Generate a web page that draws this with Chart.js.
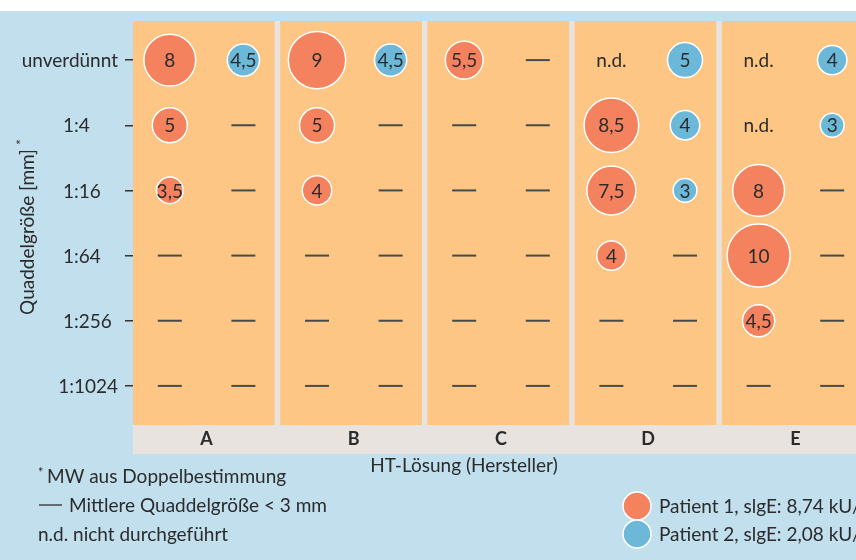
<!DOCTYPE html>
<html>
<head>
<meta charset="utf-8">
<script src="https://cdn.jsdelivr.net/npm/chart.js@4.4.1/dist/chart.umd.min.js"></script>
<style>
html, body { margin: 0; padding: 0; background: #fff; overflow: hidden; }
#wrap { width: 880px; height: 560px; }
</style>
</head>
<body>
<div id="wrap"><canvas id="chart" width="880" height="560"></canvas></div>
<script>
// HT-Lösungen (Hersteller) und Verdünnungsstufen
const groups = ['A', 'B', 'C', 'D', 'E'];
const dilutions = ['unverdünnt', '1:4', '1:16', '1:64', '1:256', '1:1024'];

// Quaddelgröße [mm] je Hersteller (Zeilen = Verdünnung); 0 = < 3 mm (—), null = n.d.
const patient1 = [
    [8, 5, 3.5, 0, 0, 0],
    [9, 5, 4, 0, 0, 0],
    [5.5, 0, 0, 0, 0, 0],
    [null, 8.5, 7.5, 4, 0, 0],
    [null, null, 8, 10, 4.5, 0]
];
const patient2 = [
    [4.5, 0, 0, 0, 0, 0],
    [4.5, 0, 0, 0, 0, 0],
    [0, 0, 0, 0, 0, 0],
    [5, 4, 3, 0, 0, 0],
    [4, 3, 0, 0, 0, 0]
];

const patientLabels = ['Patient 1, slgE: 8,74 kU/l', 'Patient 2, slgE: 2,08 kU/l'];
const footnotes = ['MW aus Doppelbestimmung', 'Mittlere Quaddelgröße < 3 mm', 'n.d. nicht durchgeführt'];

const RED = '#f4825f';
const BLUE = '#6cb8d8';
const ORANGE = '#fdc685';
const GRAY = '#e8e3de';
const BG = '#c2dfee';
const TEXT = '#2b2b2b';
const FONT = 'Lato';

const fmt = v => String(v).replace('.', ',');
const radius = v => 2.8 * v + 3.5;

function bubbles(values, offset) {
    const pts = [];
    values.forEach((col, g) => col.forEach((v, row) => {
        if (v) pts.push({ x: g + offset, y: row, r: radius(v), v: v });
    }));
    return pts;
}
function marks(test) {
    const pts = [];
    [[patient1, 0.25], [patient2, 0.75]].forEach(([values, offset]) => {
        values.forEach((col, g) => col.forEach((v, row) => {
            if (test(v)) pts.push({ x: g + offset, y: row });
        }));
    });
    return pts;
}

const backdrop = {
    id: 'backdrop',
    beforeDraw(chart) {
        const { ctx, chartArea: a, scales: { x } } = chart;
        ctx.save();
        ctx.fillStyle = '#fff';
        ctx.fillRect(0, 0, chart.width, chart.height);
        ctx.fillStyle = BG;
        ctx.fillRect(0, 11, chart.width, chart.height - 11);
        ctx.fillStyle = GRAY;
        ctx.fillRect(a.left, a.top, chart.width - a.left, 454 - a.top);
        ctx.fillStyle = ORANGE;
        groups.forEach((g, i) => {
            const l = x.getPixelForValue(i);
            const r = x.getPixelForValue(i + 1) - 5.5;
            ctx.fillRect(l, a.top, r - l, a.bottom - a.top);
        });
        ctx.restore();
    }
};

const texts = {
    id: 'texts',
    afterDatasetsDraw(chart) {
        const { ctx, scales: { y } } = chart;
        ctx.save();
        ctx.fillStyle = TEXT;
        ctx.textBaseline = 'middle';
        ctx.textAlign = 'center';
        ctx.font = `19px ${FONT}`;
        [0, 1].forEach(di => {
            chart.getDatasetMeta(di).data.forEach((el, k) => {
                const p = chart.data.datasets[di].data[k];
                ctx.fillText(fmt(p.v), el.x, el.y + 1);
            });
        });
        chart.getDatasetMeta(3).data.forEach(el => ctx.fillText('n.d.', el.x, el.y + 1));

        // y tick labels
        ctx.textAlign = 'left';
        dilutions.forEach((d, i) => {
            const py = y.getPixelForValue(i);
            const w = ctx.measureText(d).width;
            ctx.fillText(d, w > 56 ? 118 - w : 63, py + 1);
        });

        // y title
        ctx.save();
        ctx.translate(28, 232);
        ctx.rotate(-Math.PI / 2);
        ctx.textAlign = 'center';
        const t = 'Quaddelgröße [mm]';
        ctx.fillText(t, 0, 0);
        const tw = ctx.measureText(t).width;
        ctx.font = `13px ${FONT}`;
        ctx.fillText('*', tw / 2 + 7, -6);
        ctx.restore();

        // x title
        ctx.font = `19px ${FONT}`;
        ctx.textAlign = 'center';
        ctx.fillText('HT-Lösung (Hersteller)', 464, 466);

        // footnotes
        ctx.textAlign = 'left';
        ctx.font = `13px ${FONT}`;
        ctx.fillText('*', 38, 473);
        ctx.font = `19px ${FONT}`;
        ctx.fillText(footnotes[0], 47, 477);
        ctx.strokeStyle = '#444';
        ctx.lineWidth = 1.5;
        ctx.beginPath();
        ctx.moveTo(39, 505);
        ctx.lineTo(62, 505);
        ctx.stroke();
        ctx.fillText(footnotes[1], 69, 506);
        ctx.fillText(footnotes[2], 38, 535);

        // legend
        [RED, BLUE].forEach((c, i) => {
            const cy = 506 + i * 28;
            ctx.beginPath();
            ctx.arc(637, cy, 14, 0, Math.PI * 2);
            ctx.fillStyle = c;
            ctx.fill();
            ctx.strokeStyle = '#fff';
            ctx.lineWidth = 1.5;
            ctx.stroke();
            ctx.fillStyle = TEXT;
            ctx.fillText(patientLabels[i], 659, cy + 1);
        });
        ctx.restore();
    }
};

new Chart(document.getElementById('chart'), {
    type: 'bubble',
    data: {
        datasets: [
            { label: 'Patient 1', data: bubbles(patient1, 0.25), backgroundColor: RED, borderColor: '#fff', borderWidth: 1.5 },
            { label: 'Patient 2', data: bubbles(patient2, 0.75), backgroundColor: BLUE, borderColor: '#fff', borderWidth: 1.5 },
            { type: 'scatter', label: '< 3 mm', data: marks(v => v === 0), pointStyle: 'line', pointRadius: 12, borderColor: '#454a4a', borderWidth: 2, showLine: false },
            { type: 'scatter', label: 'n.d.', data: marks(v => v === null), pointRadius: 0, showLine: false }
        ]
    },
    options: {
        responsive: false,
        animation: false,
        devicePixelRatio: 1,
        events: [],
        layout: { autoPadding: false, padding: { top: 21, right: 11, left: 0, bottom: 0 } },
        plugins: { legend: { display: false }, tooltip: { enabled: false } },
        scales: {
            x: {
                type: 'linear', min: 0, max: 5,
                afterBuildTicks: s => { s.ticks = groups.map((g, i) => ({ value: i + 0.5 })); },
                afterFit: s => { s.height = 135; },
                grid: { display: false, drawTicks: false },
                border: { display: false },
                ticks: {
                    padding: 3,
                    color: TEXT,
                    font: { family: FONT, size: 18, weight: 'bold' },
                    callback: v => groups[Math.floor(v)]
                }
            },
            y: {
                type: 'linear', min: -0.6, max: 5.6, reverse: true,
                afterBuildTicks: s => { s.ticks = dilutions.map((d, i) => ({ value: i })); },
                afterFit: s => { s.width = 133; },
                grid: { drawOnChartArea: false, drawTicks: true, tickLength: 8, color: '#333', lineWidth: 1.5 },
                border: { display: false },
                ticks: { display: false }
            }
        }
    },
    plugins: [backdrop, texts]
});
</script>
</body>
</html>
